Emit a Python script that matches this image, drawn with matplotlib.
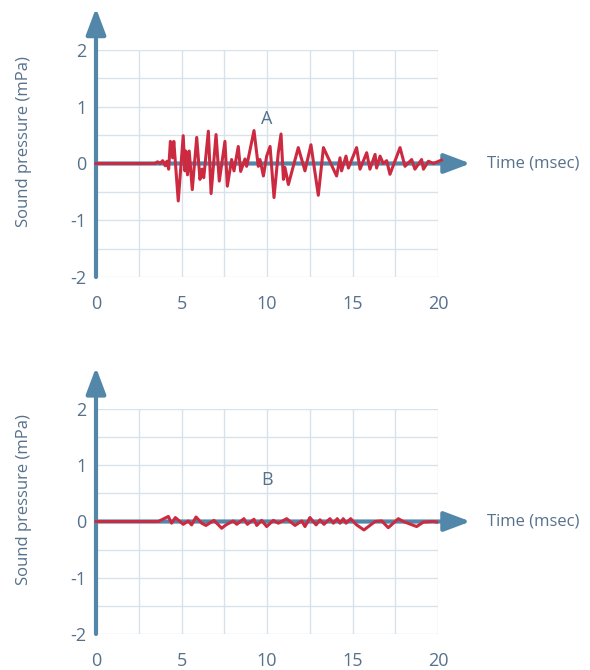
import matplotlib
matplotlib.use("Agg")
import matplotlib.pyplot as plt
from matplotlib.ticker import MultipleLocator

plt.rcParams["font.family"] = ["Open Sans", "DejaVu Sans"]
plt.rcParams["axes.unicode_minus"] = False

# ---- data (time in msec, pressure in mPa) ----
t_a = [0, 3.45, 3.6, 3.75, 3.9, 4.05, 4.15, 4.25, 4.35, 4.48, 4.55, 4.81, 5.1, 5.2, 5.25,
       5.35, 5.45, 5.63, 5.89, 6.08, 6.2, 6.3, 6.57, 6.73, 7.02, 7.21, 7.54, 7.68, 7.93,
       8.07, 8.32, 8.46, 8.71, 8.81, 9.24, 9.49, 9.59, 9.79, 9.98, 10.18, 10.41, 10.66,
       10.82, 10.96, 11.05, 11.25, 11.83, 12.22, 12.57, 13.0, 13.3, 14.07, 14.27, 14.36,
       14.62, 14.76, 15.24, 15.44, 15.83, 16.02, 16.32, 16.41, 16.61, 16.8, 17.0, 17.19,
       17.78, 18.07, 18.46, 18.65, 19.04, 19.15, 19.44, 19.73, 20.2]
p_a = [0, 0, 0.03, 0.0, 0.05, -0.04, 0.04, -0.1, 0.39, 0.1, 0.39, -0.66, 0.49, -0.13, 0.22,
       -0.2, 0.22, -0.46, 0.46, -0.28, -0.1, -0.25, 0.57, -0.53, 0.51, -0.31, 0.39, -0.4, 0.07,
       -0.13, 0.3, -0.14, 0.08, -0.05, 0.58, -0.05, 0.07, -0.22, 0.13, 0.3, -0.6, 0.19,
       0.52, -0.28, -0.07, -0.37, 0.28, -0.13, 0.33, -0.56, 0.28, -0.22, 0.1, -0.13,
       0.13, -0.08, 0.28, -0.1, 0.19, -0.1, 0.16, -0.08, 0.13, 0.0, 0.05, -0.19,
       0.28, -0.05, 0.07, -0.1, 0.07, -0.1, 0.04, 0.0, 0.06]

t_b = [0, 3.64, 4.23, 4.42, 4.64, 5.1, 5.4, 5.59, 5.85, 6.18, 6.43, 6.9, 7.35, 7.6, 8.03,
       8.23, 8.65, 8.85, 9.24, 9.4, 9.69, 9.98, 10.37, 10.66, 11.15, 11.64, 12.03, 12.22,
       12.51, 12.87, 13.1, 13.33, 13.68, 13.88, 14.11, 14.27, 14.46, 14.62, 14.89, 15.24,
       15.67, 16.32, 16.71, 17.09, 17.68, 17.97, 18.75, 19.15, 19.73, 19.92]
p_b = [0, 0, 0.09, -0.03, 0.07, -0.05, 0.01, -0.06, 0.08, -0.03, -0.07, 0.02, -0.12, -0.06, 0.01,
       -0.05, 0.05, -0.05, 0.04, -0.07, 0.02, -0.09, 0.02, -0.03, 0.05, -0.07, 0.01, -0.09,
       0.07, -0.06, 0.03, -0.05, 0.05, -0.03, 0.05, -0.03, 0.05, -0.03, 0.05, -0.06,
       -0.15, 0.0, 0.01, -0.11, 0.05, 0.0, -0.09, -0.01, 0.0, -0.01]

panels = [("A", t_a, p_a, 0.79), ("B", t_b, p_b, 0.74)]
x_ticks = [0, 5, 10, 15, 20]
y_ticks = [-2, -1, 0, 1, 2]

BLUE = "#5287aa"
RED = "#cc2a40"
GRID = "#d7e2eb"
TXT = "#56718b"

fig = plt.figure(figsize=(5.9, 6.7), dpi=100)
rects = [[96 / 590, 1 - 277 / 670, 342 / 590, 227 / 670],
         [96 / 590, 1 - 634 / 670, 342 / 590, 225 / 670]]

for rect, (name, t, p, ly) in zip(rects, panels):
    ax = fig.add_axes(rect)
    ax.set_xlim(0, 20); ax.set_ylim(-2, 2)
    ax.set_xticks(x_ticks); ax.set_yticks(y_ticks)
    ax.xaxis.set_minor_locator(MultipleLocator(2.5))
    ax.yaxis.set_minor_locator(MultipleLocator(0.5))
    ax.grid(which="both", color=GRID, lw=1.0, zorder=0)
    ax.set_axisbelow(True)
    for s in ax.spines.values():
        s.set_visible(False)
    ax.tick_params(which="both", length=0, colors=TXT, labelsize=13)
    ax.tick_params(axis="y", pad=7)
    ax.tick_params(axis="x", pad=13)

    arr = dict(arrowstyle="-|>,head_length=0.8,head_width=0.3", lw=3, color=BLUE,
               shrinkA=0, shrinkB=0, mutation_scale=20)
    ax.annotate("", xy=(0, 2.74), xytext=(0, -2), arrowprops=arr, annotation_clip=False)
    ax.annotate("", xy=(21.9, 0), xytext=(0, 0), arrowprops=arr, annotation_clip=False)

    ax.plot(t, p, color=RED, lw=2.2, clip_on=False, zorder=5)
    ax.text(10, ly, name, color=TXT, fontsize=13, ha="center", va="center")
    ax.text(22.85, 0, "Time (msec)", color=TXT, fontsize=12, ha="left", va="center",
            clip_on=False)

fig.text(24 / 590, 1 - 142 / 670, "Sound pressure (mPa)", rotation=90, color=TXT,
         fontsize=12, ha="center", va="center")
fig.text(24 / 590, 1 - 500 / 670, "Sound pressure (mPa)", rotation=90, color=TXT,
         fontsize=12, ha="center", va="center")

fig.savefig("out.png", dpi=100)
